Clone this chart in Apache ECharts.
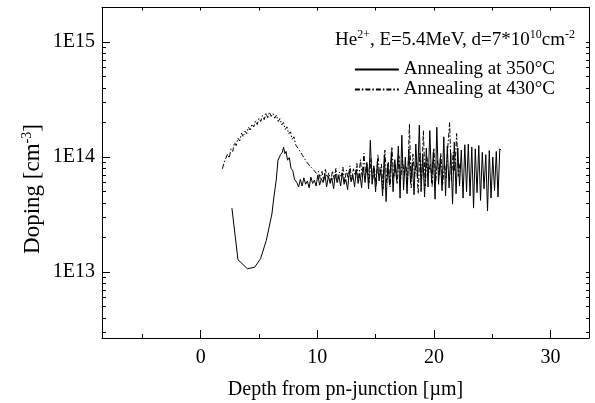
<!DOCTYPE html>
<html><head><meta charset="utf-8">
<script src="https://cdn.jsdelivr.net/npm/echarts@6/dist/echarts.min.js"></script>
<style>html,body{margin:0;padding:0;background:#fff}#c{width:595px;height:403px}</style>
</head><body><div id="c"></div>
<script>
// Axis ranges
const xMin = -8.46, xMax = 33.3;
const yMin = 2.67e12, yMax = 2.0e15;
// Tick values
const xLabelValues = [0, 10, 20, 30];
const xMinorValues = [-5, 5, 15, 25];
const xAllValues = [-5, 0, 5, 10, 15, 20, 25, 30];
const yMajorValues = [1e13, 1e14, 1e15];
const yMinorValues = [3e12,4e12,5e12,6e12,7e12,8e12,9e12,2e13,3e13,4e13,5e13,6e13,7e13,8e13,9e13,2e14,3e14,4e14,5e14,6e14,7e14,8e14,9e14,2e15];

// Annealing at 350°C : depth [µm], doping in units of 1E13 cm^-3
const depth350 = [2.68,3.2,4.0,4.63,5.14,5.63,6.11,6.28,6.48,6.63,6.85,7.0,7.11,7.22,7.32,7.45,7.6,7.75,7.9,8.05,
8.25,8.4,8.55,8.7,8.85,9.0,9.15,9.3,9.45,9.6,9.75,9.9,10.05,10.2,10.35,10.5,10.65,10.8,10.95,11.1,11.25,11.4,11.55,11.7,11.85,
12.0,12.15,12.3,12.45,12.6,12.75,12.9,13.05,13.2,13.35,13.5,13.65,13.8,13.95,14.1,14.25,14.4,14.55,14.7,14.85,
15.0,15.15,15.3,15.45,15.6,15.75,15.9,16.05,16.2,16.35,16.5,16.65,16.8,16.95,17.1,17.25,17.4,17.55,17.7,17.85,
18.0,18.15,18.3,18.45,18.6,18.75,18.9,19.05,19.2,19.35,19.5,19.65,19.8,19.95,20.1,20.25,20.4,20.55,20.7,20.85,
21.0,21.15,21.3,21.45,21.6,21.75,21.9,22.05,22.2,22.35,22.5,22.65,22.8,22.95,23.1,23.25,23.4,23.55,23.7,23.85,
24.0,24.15,24.3,24.45,24.6,24.75,24.9,25.05,25.2,25.35,25.5,25.65,25.75];
const doping350 = [3.6,1.28,1.07,1.1,1.31,1.89,3.2,4.5,6.3,9.4,10.5,11.0,12.2,10.7,11.2,9.4,9.9,8.0,7.6,6.4,
6.0,5.5,6.4,5.6,6.6,5.8,6.2,5.4,6.7,5.9,6.3,5.6,7.0,5.7,6.5,6.0,7.2,5.5,6.8,5.9,6.6,5.3,7.1,6.0,6.9,
5.6,7.3,5.8,6.4,5.2,7.6,6.1,7.0,5.5,7.8,5.9,7.2,5.4,8.2,6.0,9.0,5.3,14.0,5.8,8.4,
5.0,9.2,6.2,7.9,4.6,10.5,4.1,8.8,5.7,11.0,5.0,9.5,6.3,12.5,4.4,15.5,5.2,10.0,4.8,11.8,
5.9,9.0,4.7,13.0,6.5,19.0,5.0,10.5,4.5,12.0,5.5,17.0,6.0,11.0,4.3,18.2,5.8,9.8,5.1,15.0,
4.6,12.5,5.4,10.8,3.9,13.5,4.8,12.0,5.6,11.5,4.4,12.8,5.0,13.0,4.6,12.2,3.6,11.8,4.9,12.6,
4.2,11.0,5.3,10.5,3.4,11.4,4.4,10.0,5.1,11.2,4.5,11.8,11.5];

// Annealing at 430°C : depth [µm], doping in units of 1E13 cm^-3
const depth430 = [1.86,2.0,2.15,2.3,2.45,2.6,2.75,2.9,3.05,3.2,3.35,3.5,3.65,3.8,3.95,4.1,4.25,4.4,4.55,4.7,4.85,
5.0,5.15,5.3,5.45,5.6,5.75,5.9,6.05,6.2,6.35,6.5,6.65,6.8,6.95,7.1,7.25,7.4,7.55,7.7,7.85,
8.0,8.15,8.3,8.45,8.6,8.75,8.9,9.05,9.2,9.35,9.5,9.65,9.8,9.95,10.1,
10.25,10.4,10.55,10.7,10.85,11.0,11.15,11.3,11.45,11.6,11.75,11.9,12.05,12.2,12.35,12.5,12.65,12.8,12.95,
13.1,13.25,13.4,13.55,13.7,13.85,14.0,14.15,14.3,14.45,14.6,14.75,14.9,15.05,15.2,15.35,15.5,15.65,15.8,15.95,
16.1,16.25,16.4,16.55,16.7,16.85,17.0,17.15,17.3,17.45,17.6,17.75,17.9,18.05,18.2,18.35,18.5,18.65,18.8,18.95,
19.1,19.25,19.4,19.55,19.7,19.85,20.0,20.15,20.3,20.45,20.6,20.75,20.9,21.05,21.2,21.35,21.5,21.65,21.8,21.95,22.1,22.25];
const doping430 = [7.9,8.9,8.8,10.6,9.8,11.8,11.2,13.4,12.6,14.6,13.8,16.2,15.0,16.8,16.0,18.2,17.2,19.4,18.3,20.6,19.2,
21.8,20.4,23.0,21.2,24.2,22.0,24.6,22.6,24.0,21.8,23.2,20.4,21.6,19.0,20.0,17.4,18.3,15.9,16.6,14.3,
15.0,12.8,13.3,11.5,11.9,10.3,10.6,9.2,9.5,8.4,8.7,7.8,8.0,7.2,7.5,
6.5,7.5,6.2,7.8,6.6,7.3,6.0,7.6,6.4,8.0,6.1,7.4,6.8,8.2,6.0,7.7,6.5,8.4,6.3,
7.9,6.9,8.8,6.2,9.5,6.7,10.8,7.0,8.6,5.9,9.8,6.4,8.0,5.6,10.5,6.8,8.7,5.2,11.5,6.0,
9.0,5.5,12.3,6.6,8.5,5.8,10.2,6.3,9.6,7.0,8.4,6.1,19.5,5.4,10.6,6.8,9.2,4.8,11.0,6.5,
17.0,5.6,10.0,7.2,8.8,5.5,12.0,6.0,9.4,7.0,10.8,5.7,9.0,6.6,12.5,20.0,6.2,11.0,7.5,16.0,6.8,9.0];

const FONT = 'Liberation Serif';
const pairs350 = depth350.map((d, i) => [d, doping350[i] * 1e13]);
const pairs430 = depth430.map((d, i) => [d, doping430[i] * 1e13]);
const lg = v => Math.log10(v);

const chart = echarts.init(document.getElementById('c'), null, {renderer: 'canvas'});
const baseX = {type: 'value', min: xMin, max: xMax, splitLine: {show: false}, axisLabel: {show: false}};
chart.setOption({
  animation: false,
  backgroundColor: '#fff',
  textStyle: {fontFamily: FONT, color: '#000'},
  grid: {left: 102, right: 6, top: 7.5, bottom: 65, containLabel: false, outerBoundsMode: 'none'},
  xAxis: [
    Object.assign({}, baseX, {
      position: 'bottom',
      axisLine: {show: true, onZero: false, lineStyle: {color: '#000', width: 1}},
      axisTick: {show: true, inside: true, length: 8, customValues: xLabelValues, lineStyle: {color: '#000'}},
      axisLabel: {show: true, customValues: xLabelValues, fontSize: 20, fontFamily: FONT, color: '#000', margin: 10},
      name: 'Depth from pn-junction [µm]', nameLocation: 'middle', nameGap: 42,
      nameTextStyle: {fontSize: 20, fontFamily: FONT, color: '#000'}
    }),
    Object.assign({}, baseX, {
      position: 'bottom',
      axisLine: {show: false, onZero: false},
      axisTick: {show: true, inside: true, length: 4, customValues: xMinorValues, lineStyle: {color: '#000'}}
    }),
    Object.assign({}, baseX, {
      position: 'top',
      axisLine: {show: true, onZero: false, lineStyle: {color: '#000', width: 1}},
      axisTick: {show: true, inside: true, length: 3, customValues: xAllValues, lineStyle: {color: '#000'}}
    })
  ],
  yAxis: [
    {
      type: 'log', logBase: 10, min: yMin, max: yMax, position: 'left',
      splitLine: {show: false},
      axisLine: {show: true, onZero: false, lineStyle: {color: '#000', width: 1}},
      axisTick: {show: true, inside: true, length: 8, lineStyle: {color: '#000'}},
      axisLabel: {show: true, showMinLabel: false, showMaxLabel: false, fontSize: 20, fontFamily: FONT, color: '#000', margin: 7,
        formatter: v => '1E' + Math.round(Math.log10(v))}
    },
    {
      type: 'value', min: lg(yMin), max: lg(yMax), position: 'left',
      splitLine: {show: false}, axisLabel: {show: false},
      axisLine: {show: false, onZero: false},
      axisTick: {show: true, inside: true, length: 4, customValues: yMinorValues.map(lg), lineStyle: {color: '#000'}}
    },
    {
      type: 'value', min: lg(yMin), max: lg(yMax), position: 'right',
      splitLine: {show: false}, axisLabel: {show: false},
      axisLine: {show: true, onZero: false, lineStyle: {color: '#000', width: 1}},
      axisTick: {show: true, inside: true, length: 3, customValues: yMajorValues.concat(yMinorValues).map(lg), lineStyle: {color: '#000'}}
    }
  ],
  legend: {
    orient: 'vertical', right: 35, top: 55, itemWidth: 44, itemHeight: 2, itemGap: 1,
    itemStyle: {opacity: 0},
    textStyle: {fontSize: 19, fontFamily: FONT, color: '#000'},
    data: ['Annealing at 350°C', 'Annealing at 430°C']
  },
  graphic: [{
    type: 'text', right: 20, top: 29,
    style: {
      text: '{n|He}{s|2+}{n|, E=5.4MeV, d=7*10}{s|10}{n|cm}{s|-2}',
      rich: {
        n: {fontSize: 19, fontFamily: FONT, fill: '#000', lineHeight: 22},
        s: {fontSize: 12, fontFamily: FONT, fill: '#000', verticalAlign: 'top', lineHeight: 14}
      }
    }
  }, {
    type: 'text', x: 33, y: 189, rotation: Math.PI / 2,
    style: {
      text: '{n|Doping [cm}{s|-3}{n|]}', align: 'center', verticalAlign: 'middle',
      rich: {
        n: {fontSize: 23, fontFamily: FONT, fill: '#000', lineHeight: 25},
        s: {fontSize: 14, fontFamily: FONT, fill: '#000', verticalAlign: 'top', lineHeight: 16}
      }
    }
  }],
  series: [
    {name: 'Annealing at 350°C', type: 'line', xAxisIndex: 0, yAxisIndex: 0, data: pairs350,
     symbol: 'none', showSymbol: false, lineStyle: {color: '#000', width: 1}, itemStyle: {color: '#000'}},
    {name: 'Annealing at 430°C', type: 'line', xAxisIndex: 0, yAxisIndex: 0, data: pairs430,
     symbol: 'none', showSymbol: false, lineStyle: {color: '#000', width: 1, type: [5, 2, 1.5, 2]}, itemStyle: {color: '#000'}}
  ]
});
</script></body></html>
